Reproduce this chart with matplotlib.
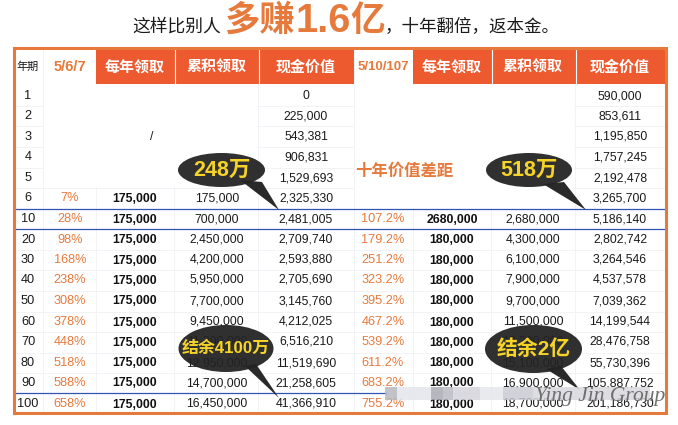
import matplotlib
matplotlib.use('Agg')
import matplotlib.pyplot as plt
from matplotlib.patches import Rectangle, Ellipse, Polygon

plt.rcParams['font.family'] = ['Noto Sans CJK SC', 'DejaVu Sans']

years = ['1', '2', '3', '4', '5', '6', '10', '20', '30', '40', '50', '60', '70', '80', '90', '100']
pct_a = ['', '', '', '', '', '7%', '28%', '98%', '168%', '238%', '308%', '378%', '448%', '518%', '588%', '658%']
annual_a = ['', '', '', '', ''] + ['175,000'] * 11
cum_a = ['', '', '', '', '', '175,000', '700,000', '2,450,000', '4,200,000', '5,950,000', '7,700,000',
         '9,450,000', '11,200,000', '12,950,000', '14,700,000', '16,450,000']
cash_a = ['0', '225,000', '543,381', '906,831', '1,529,693', '2,325,330', '2,481,005', '2,709,740',
          '2,593,880', '2,705,690', '3,145,760', '4,212,025', '6,516,210', '11,519,690', '21,258,605', '41,366,910']
pct_b = ['', '', '', '', '', '', '107.2%', '179.2%', '251.2%', '323.2%', '395.2%', '467.2%', '539.2%',
         '611.2%', '683.2%', '755.2%']
annual_b = ['', '', '', '', '', '', '2680,000'] + ['180,000'] * 9
cum_b = ['', '', '', '', '', '', '2,680,000', '4,300,000', '6,100,000', '7,900,000', '9,700,000',
         '11,500,000', '13,300,000', '15,100,000', '16,900,000', '18,700,000']
cash_b = ['590,000', '853,611', '1,195,850', '1,757,245', '2,192,478', '3,265,700', '5,186,140', '2,802,742',
          '3,264,546', '4,537,578', '7,039,362', '14,199,544', '28,476,758', '55,730,396', '105,887,752', '201,186,730']
headers = ['每年领取', '累积领取', '现金价值']
plan_a = '5/6/7'
plan_b = '5/10/107'
callouts = ['248万', '518万', '结余4100万', '结余2亿']

ORANGE = '#E67A3C'
HEAD = '#EE5A2F'
GRID = '#F2F3F6'
BLUE = '#2F55B0'
INK = '#1A1A1A'
LS = 'Liberation Sans'
MIX = ['Liberation Sans', 'Noto Sans CJK SC']

fig = plt.figure(figsize=(6.78, 4.25), dpi=100, facecolor='white')
ax = fig.add_axes([0, 0, 1, 1])
ax.set_xlim(0, 678)
ax.set_ylim(425, 0)
ax.axis('off')

row_y = [96, 116, 136.5, 157.5, 178, 198, 219, 239.5, 260, 280, 301, 322, 342, 363, 383, 404]
row_lines = [84, 105.5, 125.5, 146.5, 167.5, 187.5, 208.5, 228.5, 249.5, 270, 290.5, 311.5, 331.5, 352.5, 372.5, 393, 412]
col_lines = [43, 96, 174, 258, 354, 413, 491, 575]

# light grid
for y in row_lines[1:-1]:
    ax.plot([14, 665], [y, y], color=GRID, lw=0.7, zorder=1)
for x in col_lines:
    ax.plot([x, x], [49, 412], color=GRID, lw=0.7, zorder=1)
# blank merged regions
ax.add_patch(Rectangle((44, 85), 213, 102, fc='white', ec='none', zorder=1.5))
ax.add_patch(Rectangle((355, 85), 219, 123, fc='white', ec='none', zorder=1.5))

# header
ax.add_patch(Rectangle((96, 49), 258, 35, fc=HEAD, ec='none', zorder=2))
ax.add_patch(Rectangle((413, 49), 252, 35, fc=HEAD, ec='none', zorder=2))
for x in [174.5, 258.5, 491.5, 575.5]:
    ax.plot([x, x], [49, 84], color='white', lw=0.8, zorder=2.5)
for x, t in zip([135, 217, 306, 452, 533, 620], headers * 2):
    ax.text(x, 66.5, t, ha='center', va='center', color='white', fontsize=10.8, fontweight='bold', zorder=3)
ax.text(28, 66.5, '年期', ha='center', va='center', color=INK, fontsize=8, zorder=3)
ax.text(70, 66.5, plan_a, ha='center', va='center', color=ORANGE, fontsize=10.5, fontweight='bold',
        family=LS, zorder=3)
ax.text(383, 66.5, plan_b, ha='center', va='center', color=ORANGE, fontsize=9.5, fontweight='bold',
        family=LS, zorder=3)

# body
FS = 8.8
for i, y in enumerate(row_y):
    ax.text(28, y, years[i], ha='center', va='center', fontsize=FS + 0.4, color=INK, family=LS, zorder=3)
    ax.text(70, y, pct_a[i], ha='center', va='center', fontsize=FS + 0.4, color=ORANGE, family=LS, zorder=3)
    ax.text(135, y + 0.5, annual_a[i], ha='center', va='center', fontsize=FS, color='#111111',
            fontweight='bold', family=LS, zorder=3)
    ax.text(217, y, cum_a[i], ha='center', va='center', fontsize=FS, color=INK, family=LS, zorder=3)
    ax.text(306, y, cash_a[i], ha='center', va='center', fontsize=FS, color=INK, family=LS, zorder=3)
    ax.text(383, y, pct_b[i], ha='center', va='center', fontsize=FS + 0.4, color=ORANGE, family=LS, zorder=3)
    ax.text(452, y + 0.5, annual_b[i], ha='center', va='center', fontsize=FS, color='#111111',
            fontweight='bold', family=LS, zorder=3)
    ax.text(533, y, cum_b[i], ha='center', va='center', fontsize=FS, color=INK, family=LS, zorder=3)
    ax.text(620, y, cash_b[i], ha='center', va='center', fontsize=FS, color=INK, family=LS, zorder=3)

ax.text(152, 136.5, '/', ha='center', va='center', fontsize=FS, color=INK, family=LS, zorder=3)
ax.text(404, 171, '十年价值差距', ha='center', va='center', fontsize=11.8, color=ORANGE, fontweight='bold', zorder=3)

# blue rules
ax.plot([14, 665], [208.5, 208.5], color=BLUE, lw=0.9, zorder=4)
ax.plot([14, 665], [228.5, 228.5], color=BLUE, lw=0.9, zorder=4)
ax.plot([14, 386], [393, 393], color=BLUE, lw=0.9, zorder=4)

# outer border
ax.add_patch(Rectangle((13.5, 48), 652, 365, fc='none', ec=ORANGE, lw=2.2, zorder=5))

# title
ax.text(132, 27, '这样比别人', ha='left', va='center', fontsize=12.8, color=INK, zorder=3)
ax.text(224, 20, '多赚', ha='left', va='center', fontsize=25.5, color=ORANGE, fontweight='bold', zorder=3)
ax.text(295, 21, '1.6', ha='left', va='center', fontsize=28.5, color=ORANGE, fontweight='bold', family=LS, zorder=3)
ax.text(350, 20, '亿', ha='left', va='center', fontsize=25, color=ORANGE, fontweight='bold', zorder=3)
ax.text(385, 27, '\uff0c十年翻倍\uff0c返本金\u3002', ha='left', va='center', fontsize=12.6, color=INK, zorder=3)

# callouts
DARK = '#232323'
YEL = '#F5D327'
def callout(cx, cy, w, h, tail, label, fs):
    ax.add_patch(Polygon(tail, closed=True, fc=DARK, ec='none', alpha=0.97, zorder=6))
    ax.add_patch(Ellipse((cx, cy), w, h, fc=DARK, ec='none', alpha=0.94, zorder=6))
    ax.text(cx, cy, label, ha='center', va='center', fontsize=fs, color=YEL, fontweight='bold',
            family=MIX, zorder=7)

callout(221.5, 170, 87, 34, [(240, 180), (262, 182), (279, 210)], callouts[0], 15.5)
callout(529, 170, 86, 34, [(543, 184), (564, 182), (586, 210)], callouts[1], 15.5)
callout(226, 348.5, 95, 47, [(245, 366), (256, 364), (279, 398)], callouts[2], 12.2)
callout(533.5, 349, 97, 48, [(546, 369), (561, 366), (580, 390)], callouts[3], 15)

# blurred watermark strip
strip_edges = [385, 397, 431, 443, 453, 480, 503, 533, 650]
strip_cols = ['#B4B6BC', '#E2E5EC', '#A8A8B2', '#B8B8C2', '#D2D2DA', '#E4E6EA', '#C8C8D2', '#D6D6DC']
for x0, x1, c in zip(strip_edges[:-1], strip_edges[1:], strip_cols):
    ax.add_patch(Rectangle((x0, 387), x1 - x0, 13, fc=c, ec='none', alpha=0.82, zorder=8))
ax.text(600, 396, 'Ying Jin Group', ha='center', va='center', fontsize=15.5, style='italic',
        family='Liberation Serif', color='#6F6F6F', zorder=9)

fig.savefig('out.png', dpi=100, facecolor='white')
